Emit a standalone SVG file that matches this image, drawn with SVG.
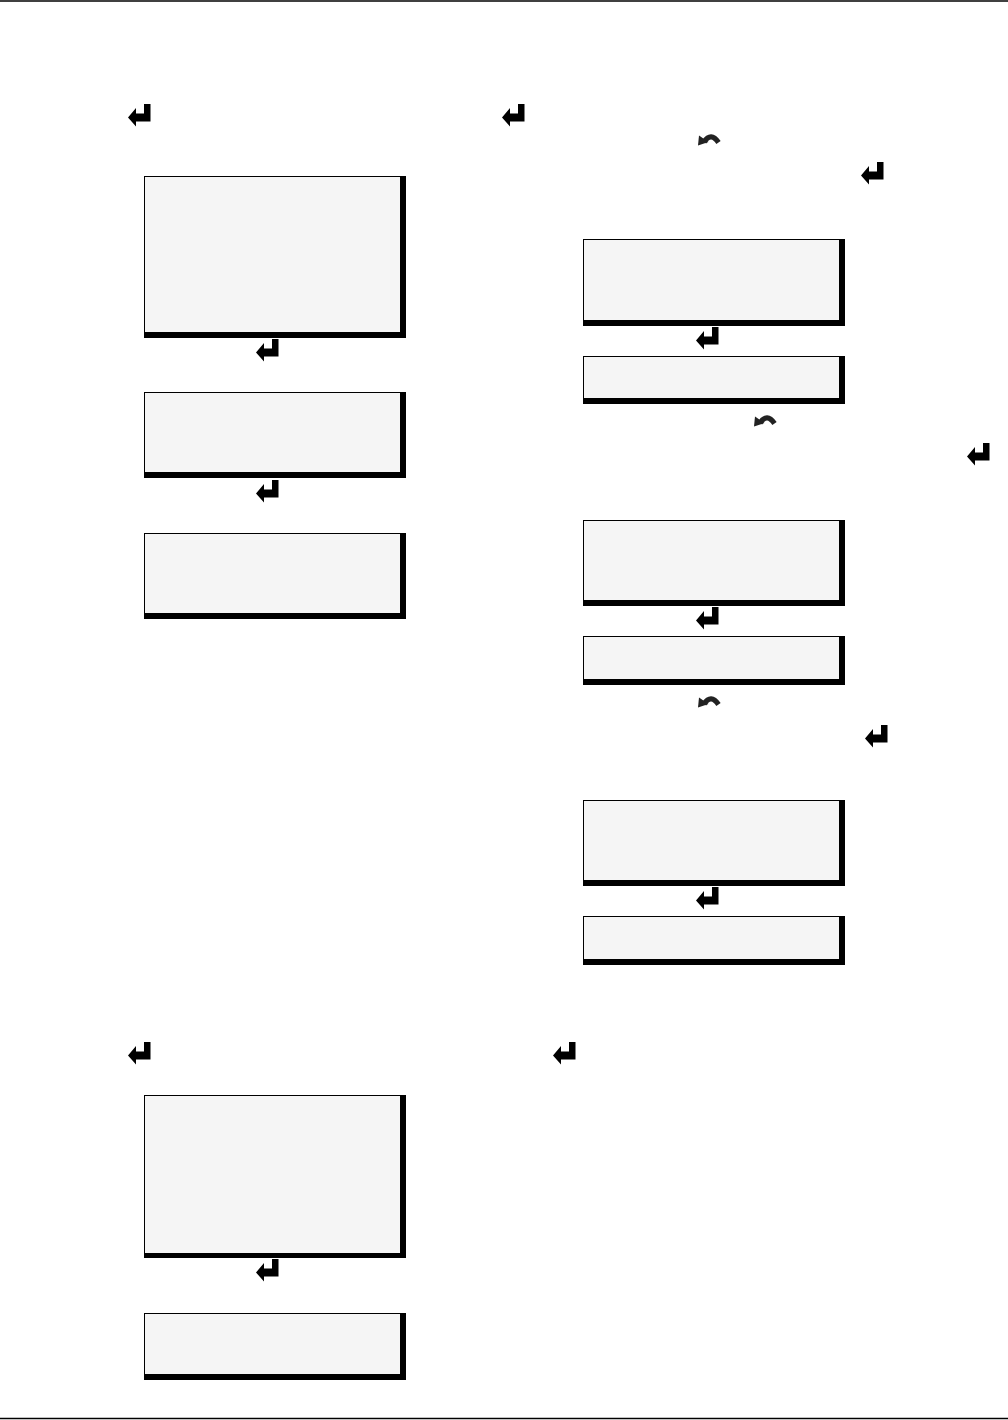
<svg xmlns="http://www.w3.org/2000/svg" xmlns:xlink="http://www.w3.org/1999/xlink" width="1008" height="1420" viewBox="0 0 1008 1420">
<defs>
<style>
.sh{fill:#000}
.bx{fill:#f5f5f5;stroke:#000;stroke-width:1}
.ent{fill:#000}
.undo{fill:#222}
.undoarc{fill:none;stroke:#222;stroke-width:5.2}
.rule{stroke:#000;stroke-width:1.5}
</style>
<path id="ent" d="M0,13.5 L8,4 L8,9.5 L16,9.5 L16,0 L22.5,0 L22.5,17.5 L8,17.5 L8,22.5 Z"/>
<g id="undo">
<path class="undoarc" d="M6,9 Q13,-1.5 20.5,9.5"/>
<path class="undo" d="M0,12.5 L1,2.5 L10.5,9 Z"/>
</g>
</defs>
<rect width="1008" height="1420" fill="#fff"/>
<line class="rule" x1="0" y1="1" x2="1008" y2="1"/>
<line class="rule" x1="0" y1="1418.5" x2="1008" y2="1418.5"/>

<g id="node-l1"><rect class="sh" x="144" y="176" width="262" height="162"/><rect class="bx" x="144.5" y="176.5" width="256" height="156"/></g>
<g id="node-l2"><rect class="sh" x="144" y="392" width="262" height="86"/><rect class="bx" x="144.5" y="392.5" width="256" height="80"/></g>
<g id="node-l3"><rect class="sh" x="144" y="533" width="262" height="86"/><rect class="bx" x="144.5" y="533.5" width="256" height="80"/></g>
<g id="node-l4"><rect class="sh" x="144" y="1095" width="262" height="163"/><rect class="bx" x="144.5" y="1095.5" width="256" height="158"/></g>
<g id="node-l5"><rect class="sh" x="144" y="1313" width="262" height="67"/><rect class="bx" x="144.5" y="1313.5" width="256" height="61"/></g>

<g id="node-r1"><rect class="sh" x="583" y="239" width="262" height="87"/><rect class="bx" x="583.5" y="239.5" width="256" height="81"/></g>
<g id="node-r2"><rect class="sh" x="583" y="356" width="262" height="48"/><rect class="bx" x="583.5" y="356.5" width="256" height="42"/></g>
<g id="node-r3"><rect class="sh" x="583" y="520" width="262" height="86"/><rect class="bx" x="583.5" y="520.5" width="256" height="80"/></g>
<g id="node-r4"><rect class="sh" x="583" y="636" width="262" height="49"/><rect class="bx" x="583.5" y="636.5" width="256" height="43"/></g>
<g id="node-r5"><rect class="sh" x="583" y="800" width="262" height="86"/><rect class="bx" x="583.5" y="800.5" width="256" height="80"/></g>
<g id="node-r6"><rect class="sh" x="583" y="916" width="262" height="49"/><rect class="bx" x="583.5" y="916.5" width="256" height="43"/></g>

<g id="connectors">
<use href="#ent" class="ent" transform="translate(128,104)"/>
<use href="#ent" class="ent" transform="translate(502,104)"/>
<use href="#ent" class="ent" transform="translate(861,162)"/>
<use href="#ent" class="ent" transform="translate(256,339)"/>
<use href="#ent" class="ent" transform="translate(256,480)"/>
<use href="#ent" class="ent" transform="translate(696,327)"/>
<use href="#ent" class="ent" transform="translate(967,443)"/>
<use href="#ent" class="ent" transform="translate(696,607)"/>
<use href="#ent" class="ent" transform="translate(865,725)"/>
<use href="#ent" class="ent" transform="translate(696,887)"/>
<use href="#ent" class="ent" transform="translate(128,1042)"/>
<use href="#ent" class="ent" transform="translate(553,1042)"/>
<use href="#ent" class="ent" transform="translate(256,1259)"/>
<use href="#undo" transform="translate(698,133)"/>
<use href="#undo" transform="translate(754,414)"/>
<use href="#undo" transform="translate(698,695)"/>
</g>
</svg>
